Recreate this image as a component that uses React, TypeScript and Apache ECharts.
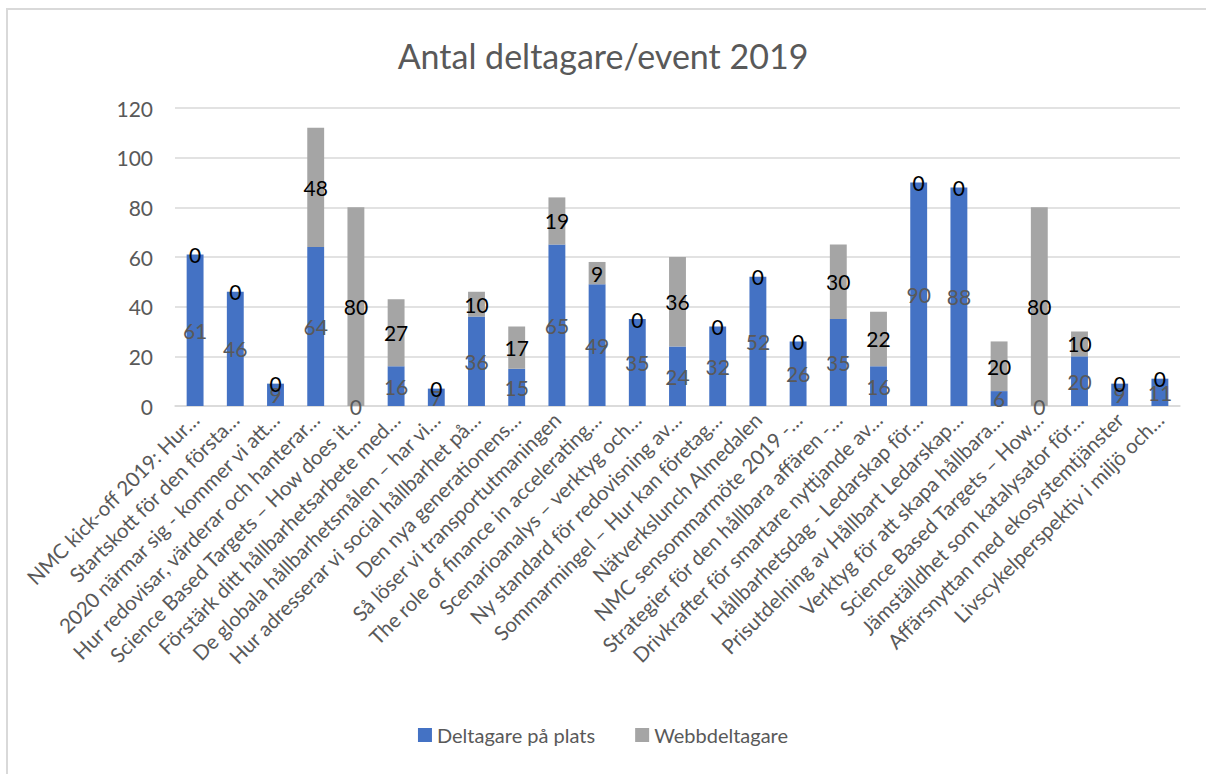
import React, { useEffect, useRef } from "react";
import * as echarts from "echarts";

const categories: string[] = [
  "NMC kick-off 2019: Hur…",
  "Startskott för den första…",
  "2020 närmar sig - kommer vi att…",
  "Hur redovisar, värderar och hanterar…",
  "Science Based Targets – How does it…",
  "Förstärk ditt hållbarhetsarbete med…",
  "De globala hållbarhetsmålen – har vi…",
  "Hur adresserar vi social hållbarhet på…",
  "Den nya generationens…",
  "Så löser vi transportutmaningen",
  "The role of finance in accelerating…",
  "Scenarioanalys – verktyg och…",
  "Ny standard för redovisning av…",
  "Sommarmingel – Hur kan företag…",
  "Nätverkslunch Almedalen",
  "NMC sensommarmöte 2019 -…",
  "Strategier för den hållbara affären -…",
  "Drivkrafter för smartare nyttjande av…",
  "Hållbarhetsdag - Ledarskap för…",
  "Prisutdelning av Hållbart Ledarskap…",
  "Verktyg för att skapa hållbara…",
  "Science Based Targets – How…",
  "Jämställdhet som katalysator för…",
  "Affärsnyttan med ekosystemtjänster",
  "Livscykelperspektiv i miljö och…",
];

const onSite: number[] = [61, 46, 9, 64, 0, 16, 7, 36, 15, 65, 49, 35, 24, 32, 52, 26, 35, 16, 90, 88, 6, 0, 20, 9, 11];
const web: number[] = [0, 0, 0, 48, 80, 27, 0, 10, 17, 19, 9, 0, 36, 0, 0, 0, 30, 22, 0, 0, 20, 80, 10, 0, 0];

const seriesNames: string[] = ["Deltagare på plats", "Webbdeltagare"];
const titleText = "Antal deltagare/event 2019";
const yTicks = { min: 0, max: 120, interval: 20 };

const FONT = "Lato, 'Noto Sans', sans-serif";

export default function App() {
  const ref = useRef<HTMLDivElement>(null);
  useEffect(() => {
    if (!ref.current) return;
    const chart = echarts.init(ref.current, undefined, { renderer: "svg" });
    chart.setOption({
      animation: false,
      backgroundColor: "transparent",
      textStyle: { fontFamily: FONT },
      title: {
        text: titleText,
        left: "center",
        top: 33,
        textStyle: { fontFamily: FONT, fontSize: 34, fontWeight: "normal", color: "#595959" },
      },
      legend: {
        bottom: 24,
        left: "center",
        itemWidth: 14,
        itemHeight: 14,
        itemGap: 40,
        icon: "rect",
        textStyle: { fontFamily: FONT, fontSize: 20, color: "#595959" },
        data: seriesNames,
      },
      grid: { left: 175, right: 26, top: 108, bottom: 368, containLabel: false },
      xAxis: {
        type: "category",
        data: categories,
        axisTick: { show: false },
        axisLine: { lineStyle: { color: "#D9D9D9", width: 1.5 } },
        axisLabel: {
          interval: 0,
          rotate: 45,
          margin: 10,
          fontFamily: FONT,
          fontSize: 20.5,
          color: "#595959",
        },
      },
      yAxis: {
        type: "value",
        min: yTicks.min,
        max: yTicks.max,
        interval: yTicks.interval,
        axisLine: { show: false },
        axisTick: { show: false },
        splitLine: { lineStyle: { color: "#D9D9D9", width: 1.5 } },
        axisLabel: { fontFamily: FONT, fontSize: 21, color: "#595959", margin: 22 },
      },
      series: [
        {
          name: seriesNames[0],
          type: "bar",
          stack: "total",
          data: onSite,
          barWidth: "42%",
          itemStyle: { color: "#4472C4" },
          label: {
            show: true,
            position: "inside",
            fontFamily: FONT,
            fontSize: 21,
            color: "#595959",
          },
        },
        {
          name: seriesNames[1],
          type: "bar",
          stack: "total",
          data: web,
          barWidth: "42%",
          itemStyle: { color: "#A5A5A5" },
          label: {
            show: true,
            position: "inside",
            fontFamily: FONT,
            fontSize: 21,
            color: "#000000",
          },
        },
      ],
    });
    return () => chart.dispose();
  }, []);

  return (
    <div style={{ position: "fixed", left: 0, top: 0, width: 1206, height: 774, overflow: "hidden", background: "#fff" }}>
      <div
        style={{
          position: "absolute",
          left: 6,
          top: 8,
          width: 1300,
          height: 900,
          border: "2px solid #D9D9D9",
          boxSizing: "border-box",
        }}
      />
      <div ref={ref} style={{ position: "absolute", left: 0, top: 0, width: 1206, height: 774 }} />
    </div>
  );
}
